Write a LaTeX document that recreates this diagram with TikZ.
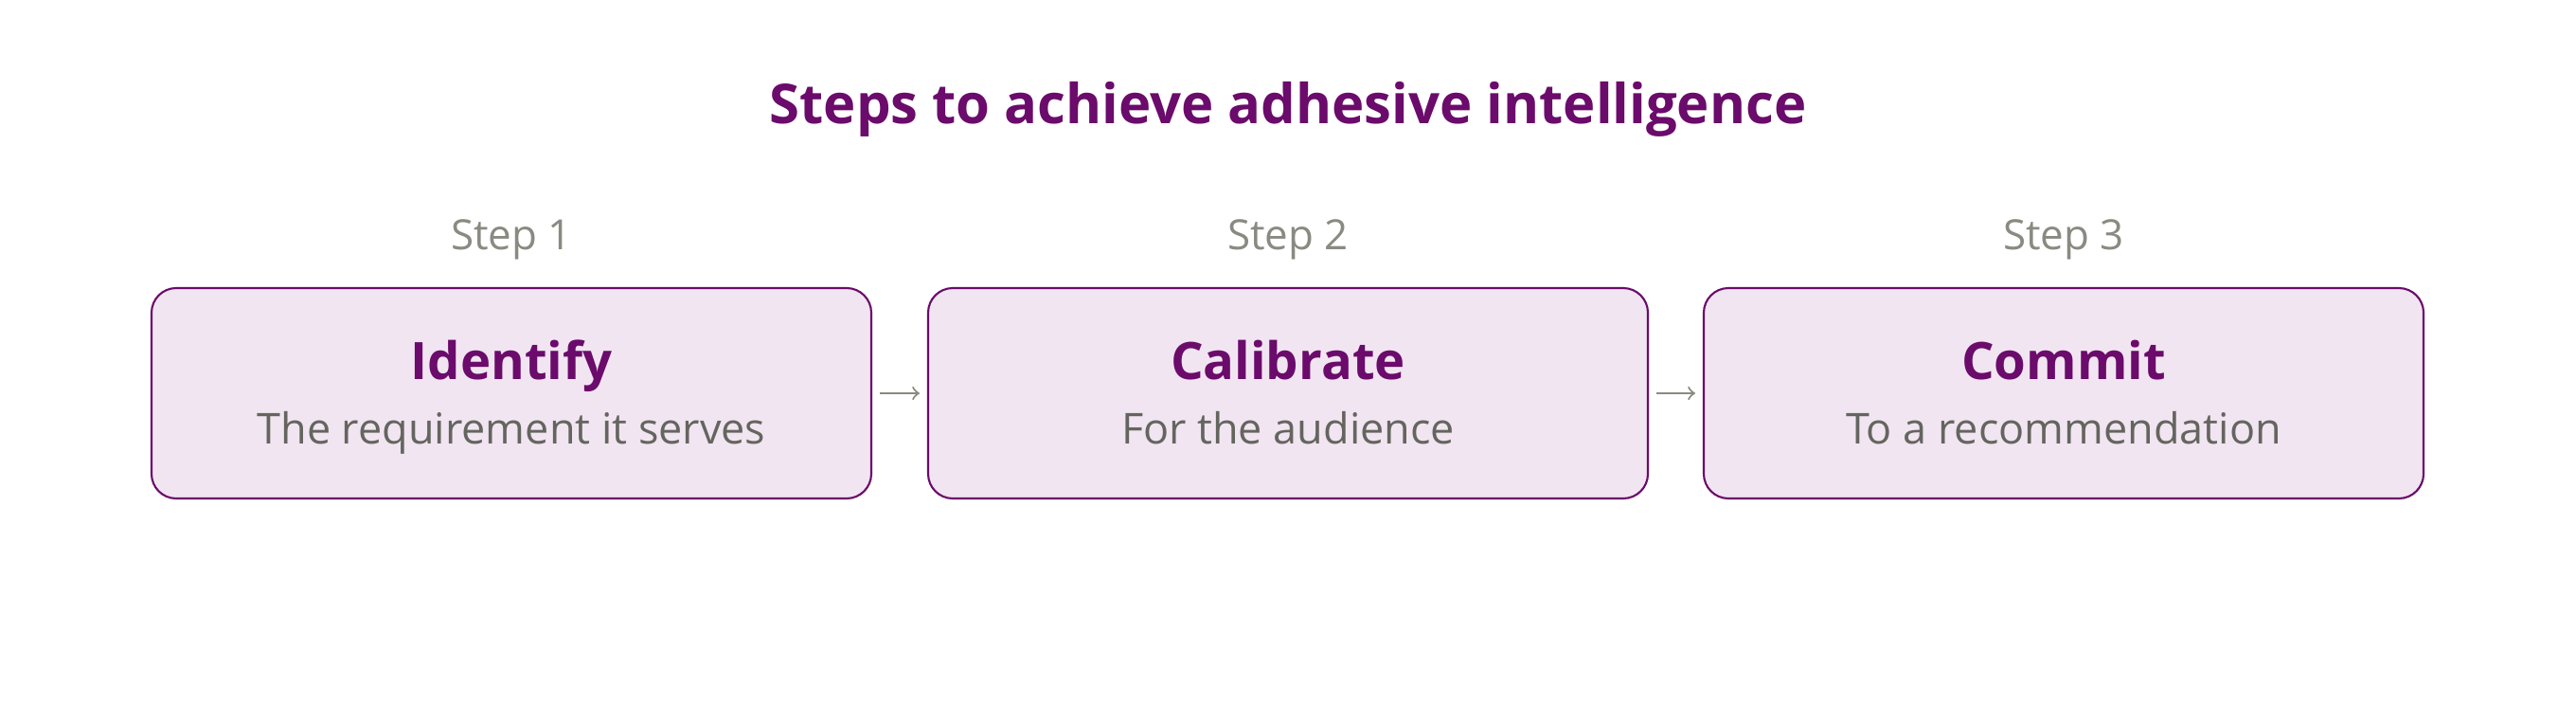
\documentclass[tikz,border=0pt]{standalone}
\usepackage{fontspec}
\setmainfont{Open Sans}
\definecolor{plum}{HTML}{6B0B6B}
\definecolor{boxfill}{HTML}{F1E5F1}
\definecolor{stepgray}{HTML}{8A8A82}
\definecolor{descgray}{HTML}{65655F}
\definecolor{arrowgray}{HTML}{8A8A82}

\begin{document}
\begin{tikzpicture}[
  box/.style={draw=plum, line width=0.6pt, fill=boxfill, rounded corners=2.6mm,
    minimum width=7.6cm, minimum height=2.22cm},
  heading/.style={anchor=base, text=plum, font=\fontsize{15.5}{18}\selectfont\bfseries},
  desc/.style={anchor=base, text=descgray, font=\fontsize{12.8}{15}\selectfont},
  steplabel/.style={anchor=base, text=stepgray, font=\fontsize{12.5}{15}\selectfont},
  link/.style={->, draw=arrowgray, line width=0.6pt, shorten >=0.8mm, shorten <=0.8mm}
]
  \useasboundingbox (0,0) rectangle (27.2,7.44);
  \fill[white] (0,0) rectangle (27.2,7.44);

  \node[anchor=base, text=plum, font=\fontsize{16.5}{20}\selectfont\bfseries] (title) at (13.6,6.14) {Steps to achieve adhesive intelligence};

  \node[steplabel] (s1) at (5.40,4.81) {Step 1};
  \node[steplabel] (s2) at (13.60,4.81) {Step 2};
  \node[steplabel] (s3) at (21.79,4.81) {Step 3};

  \node[box] (b1) at (5.40,3.29) {};
  \node[box] (b2) at (13.60,3.29) {};
  \node[box] (b3) at (21.79,3.29) {};

  \node[heading] (h1) at (5.40,3.44) {Identify};
  \node[desc] (d1) at (5.40,2.76) {The requirement it serves};

  \node[heading] (h2) at (13.60,3.44) {Calibrate};
  \node[desc] (d2) at (13.60,2.76) {For the audience};

  \node[heading] (h3) at (21.79,3.44) {Commit};
  \node[desc] (d3) at (21.79,2.76) {To a recommendation};

  \draw[link] (b1) -- (b2);
  \draw[link] (b2) -- (b3);
\end{tikzpicture}
\end{document}
